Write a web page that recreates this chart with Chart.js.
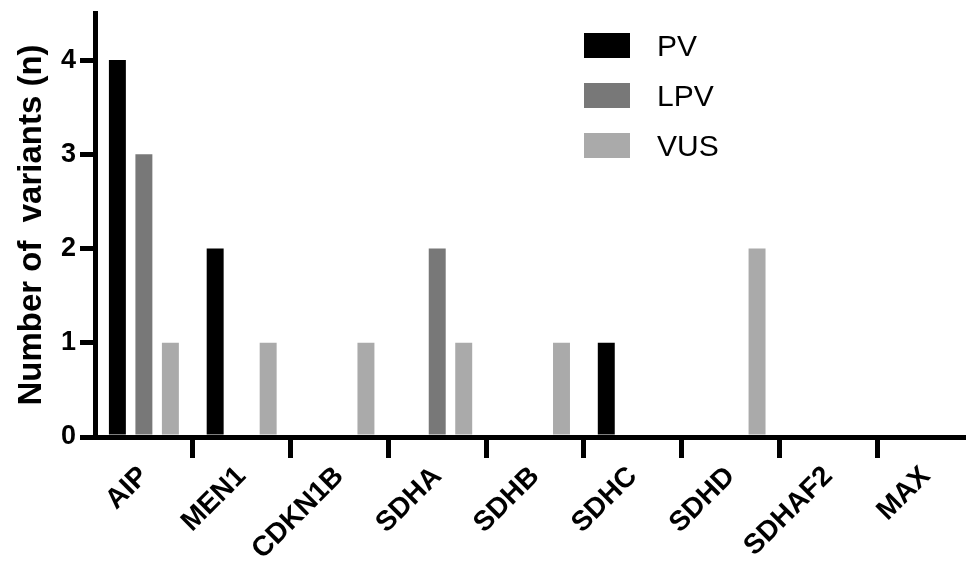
<!DOCTYPE html>
<html>
<head>
<meta charset="utf-8">
<script src="https://cdn.jsdelivr.net/npm/chart.js@4.4.1/dist/chart.umd.min.js"></script>
<style>
  html, body { margin: 0; padding: 0; background: #fff; overflow: hidden; }
  #wrap { position: relative; width: 975px; height: 566px; }
  #legend { position: absolute; left: 584px; top: 33px; font-family: 'Liberation Sans', Arial, sans-serif; }
  .row { display: flex; align-items: center; height: 25px; margin-bottom: 25px; }
  .sw { width: 46px; height: 25px; margin-right: 27px; }
  .lb { font-size: 30px; color: #000; line-height: 25px; }
</style>
</head>
<body>
<div id="wrap">
  <canvas id="c" width="975" height="566"></canvas>
  <div id="legend"></div>
</div>
<script>
const GENES   = ['AIP', 'MEN1', 'CDKN1B', 'SDHA', 'SDHB', 'SDHC', 'SDHD', 'SDHAF2', 'MAX'];
const PV      = [4, 2, 0, 0, 0, 1, 0, 0, 0];
const LPV     = [3, 0, 0, 2, 0, 0, 0, 0, 0];
const VUS     = [1, 1, 1, 1, 1, 0, 2, 0, 0];
const Y_TICKS = [0, 1, 2, 3, 4];

const FONT = "'Liberation Sans', Arial, sans-serif";
const SERIES = [
  { label: 'PV',  data: PV,  color: '#000000' },
  { label: 'LPV', data: LPV, color: '#787878' },
  { label: 'VUS', data: VUS, color: '#aaaaaa' },
];

const chart = new Chart(document.getElementById('c'), {
  type: 'bar',
  data: {
    labels: GENES,
    datasets: SERIES.map(s => ({
      label: s.label, data: s.data, backgroundColor: s.color,
      borderWidth: 0, categoryPercentage: 0.813, barPercentage: 0.64,
    })),
  },
  options: {
    responsive: false, animation: false,
    layout: { padding: { top: 13, left: 0, right: 0, bottom: 0 } },
    plugins: { legend: { display: false }, tooltip: { enabled: false } },
    scales: {
      x: {
        z: 1,
        grid: {
          offset: true, drawOnChartArea: false, drawTicks: true, tickLength: 21, lineWidth: 5,
          color: ctx => (ctx.index === 0 ? 'rgba(0,0,0,0)' : '#000'),
        },
        border: { display: true, color: '#000', width: 5 },
        ticks: {
          autoSkip: false, maxRotation: 45, minRotation: 45, padding: 2,
          color: '#000', font: { family: FONT, size: 28, weight: 'bold' },
        },
        afterFit: s => { s.height = 129; s.paddingLeft = 0; s.paddingRight = 0; },
      },
      y: {
        min: 0, max: 4.5,
        grid: { drawOnChartArea: false, drawTicks: true, tickLength: 15, lineWidth: 5, color: '#000' },
        border: { display: true, color: '#000', width: 5 },
        ticks: {
          stepSize: 1, padding: 4, color: '#000',
          font: { family: FONT, size: 27, weight: 'bold' },
        },
        afterBuildTicks: s => { s.ticks = Y_TICKS.map(v => ({ value: v })); },
        title: {
          display: true, text: 'Number of  variants (n)', color: '#000',
          font: { family: FONT, size: 33, weight: 'bold' }, padding: { top: 12, bottom: 0 },
        },
        afterFit: s => { s.width = 95; s.paddingTop = 0; s.paddingBottom = 0; },
      },
    },
  },
});

// legend built from the datasets
const legend = document.getElementById('legend');
chart.data.datasets.forEach(ds => {
  const row = document.createElement('div');
  row.className = 'row';
  row.innerHTML = `<div class="sw" style="background:${ds.backgroundColor}"></div><div class="lb">${ds.label}</div>`;
  legend.appendChild(row);
});
</script>
</body>
</html>
